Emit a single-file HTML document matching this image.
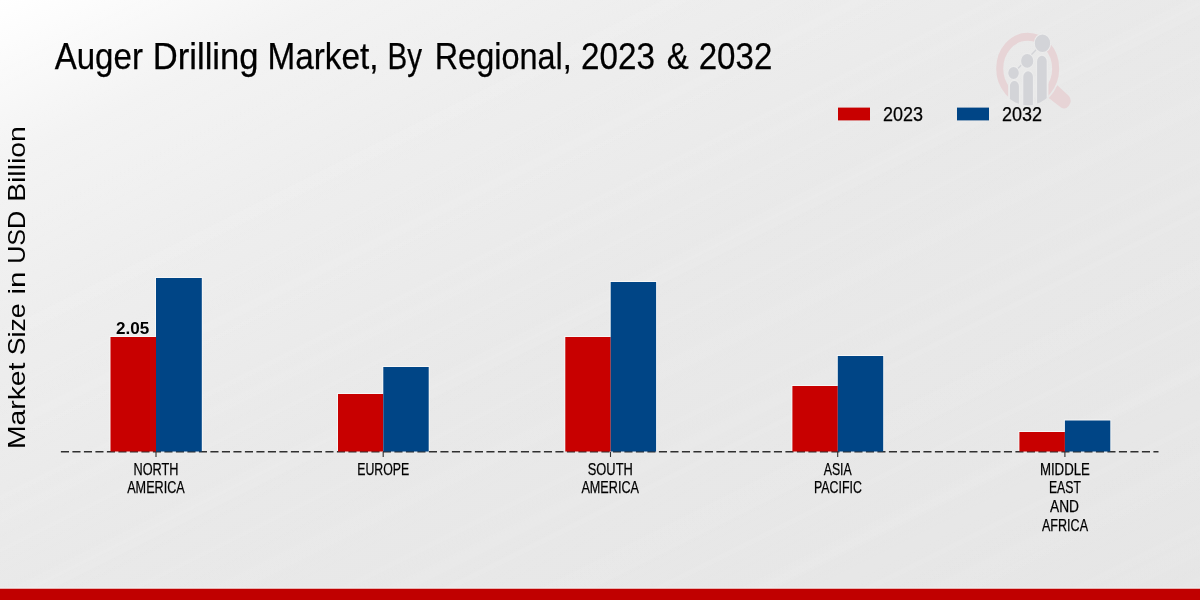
<!DOCTYPE html>
<html>
<head>
<meta charset="utf-8">
<title>Auger Drilling Market, By Regional, 2023 &amp; 2032</title>
<style>
html,body{margin:0;padding:0;background:#e8e8e8;}
body{width:1200px;height:600px;overflow:hidden;font-family:"Liberation Sans",sans-serif;}
svg{display:block;will-change:transform;}
text{font-family:"Liberation Sans",sans-serif;fill:#000;}
</style>
</head>
<body>
<svg width="1200" height="600" viewBox="0 0 1200 600">
<defs>
<linearGradient id="bg" gradientUnits="userSpaceOnUse" x1="0" y1="0" x2="480" y2="960">
<stop offset="0" stop-color="#ffffff"/>
<stop offset="0.05" stop-color="#fbfbfb"/>
<stop offset="0.14" stop-color="#f3f3f3"/>
<stop offset="0.27" stop-color="#eeeeee"/>
<stop offset="0.5" stop-color="#e9e9e9"/>
<stop offset="1" stop-color="#e6e6e6"/>
</linearGradient>
<linearGradient id="st1" gradientUnits="userSpaceOnUse" x1="0" y1="0" x2="21" y2="42" spreadMethod="repeat">
<stop offset="0" stop-color="#fff" stop-opacity="0"/>
<stop offset="0.2" stop-color="#fff" stop-opacity="0"/>
<stop offset="0.5" stop-color="#fff" stop-opacity="0.055"/>
<stop offset="0.6" stop-color="#fff" stop-opacity="0.01"/>
<stop offset="1" stop-color="#fff" stop-opacity="0"/>
</linearGradient>
<linearGradient id="st2" gradientUnits="userSpaceOnUse" x1="7" y1="0" x2="43" y2="72" spreadMethod="repeat">
<stop offset="0" stop-color="#fff" stop-opacity="0"/>
<stop offset="0.45" stop-color="#fff" stop-opacity="0"/>
<stop offset="0.75" stop-color="#fff" stop-opacity="0.06"/>
<stop offset="0.85" stop-color="#fff" stop-opacity="0.005"/>
<stop offset="1" stop-color="#fff" stop-opacity="0"/>
</linearGradient>
<linearGradient id="stmask" gradientUnits="userSpaceOnUse" x1="0" y1="0" x2="480" y2="960">
<stop offset="0" stop-color="#000"/>
<stop offset="0.12" stop-color="#555"/>
<stop offset="0.3" stop-color="#fff"/>
<stop offset="1" stop-color="#fff"/>
</linearGradient>
<mask id="stm"><rect x="0" y="0" width="1200" height="600" fill="url(#stmask)"/></mask>
<clipPath id="ringclip"><path d="M-60,-60 H60 V60 H23.6 V6 H-22.2 V60 H-60 Z"/></clipPath>
<clipPath id="barclip"><circle cx="0" cy="0" r="36.6"/></clipPath>
</defs>
<rect x="0" y="0" width="1200" height="600" fill="url(#bg)"/>
<g mask="url(#stm)"><rect x="0" y="0" width="1200" height="600" fill="url(#st1)"/><rect x="0" y="0" width="1200" height="600" fill="url(#st2)"/></g>

<!-- bottom strip -->

<!-- title -->
<g font-size="36.3" stroke="#000" stroke-width="0.25">
<text x="54.7" y="68.7" textLength="88.2" lengthAdjust="spacingAndGlyphs">Auger</text>
<text x="152.8" y="68.7" textLength="105.7" lengthAdjust="spacingAndGlyphs">Drilling</text>
<text x="267.5" y="68.7" textLength="111" lengthAdjust="spacingAndGlyphs">Market,</text>
<text x="387.5" y="68.7" textLength="34.5" lengthAdjust="spacingAndGlyphs">By</text>
<text x="434.7" y="68.7" textLength="137" lengthAdjust="spacingAndGlyphs">Regional,</text>
<text x="581" y="68.7" textLength="74" lengthAdjust="spacingAndGlyphs">2023</text>
<text x="666.8" y="68.7" textLength="22" lengthAdjust="spacingAndGlyphs">&amp;</text>
<text x="698.7" y="68.7" textLength="73.6" lengthAdjust="spacingAndGlyphs">2032</text>
</g>

<!-- y label -->
<g transform="translate(24.8,0) rotate(-90)" font-size="24.1">
<text x="-449.1" y="0" textLength="86.5" lengthAdjust="spacingAndGlyphs">Market</text>
<text x="-355.3" y="0" textLength="52" lengthAdjust="spacingAndGlyphs">Size</text>
<text x="-294.6" y="0" textLength="23" lengthAdjust="spacingAndGlyphs">in</text>
<text x="-263.8" y="0" textLength="53" lengthAdjust="spacingAndGlyphs">USD</text>
<text x="-201.8" y="0" textLength="75.5" lengthAdjust="spacingAndGlyphs">Billion</text>
</g>


<!-- logo watermark -->
<g transform="translate(1027.7,68.6) scale(0.88,1)">
<g clip-path="url(#ringclip)"><circle cx="0" cy="0" r="31.8" fill="none" stroke="#e7d4d6" stroke-width="8"/></g>
<path d="M33.6,16.6 L46.9,27.5 A7.4,7.4 0 0 1 37.8,38.8 L23.9,29.4 A37.6,37.6 0 0 0 33.6,16.6 Z" fill="#e7d4d6"/>
<g clip-path="url(#barclip)" fill="#d3d4d8" stroke="#ececec" stroke-width="1.4">
<rect x="-20.9" y="11.8" width="11.6" height="40" rx="5.8" ry="5.8"/>
<rect x="-5.7" y="2.0" width="12.3" height="50" rx="6.1" ry="6.1"/>
<rect x="10.0" y="-13.5" width="12.3" height="60" rx="6.1" ry="6.1"/>
</g>
<line x1="-16.1" y1="4.4" x2="16.8" y2="-25.35" stroke="#d3d4d8" stroke-width="1.6"/>
<g fill="#d3d4d8" stroke="#ececec" stroke-width="1.2">
<circle cx="16.8" cy="-25.35" r="9.35"/>
<circle cx="-0.57" cy="-7.7" r="7.5"/>
<circle cx="-16.1" cy="4.4" r="6.6"/>
</g>
</g>

<!-- legend -->
<rect x="838" y="107.6" width="32" height="12.8" fill="#c80000"/>
<text x="883" y="121.4" font-size="20" stroke="#000" stroke-width="0.25" textLength="40" lengthAdjust="spacingAndGlyphs">2023</text>
<rect x="957" y="107.6" width="32" height="12.8" fill="#004586"/>
<text x="1002" y="121.4" font-size="20" stroke="#000" stroke-width="0.25" textLength="40" lengthAdjust="spacingAndGlyphs">2032</text>

<!-- jpeg-like light halos -->
<g fill="#f6f6f6">
<rect x="109.5" y="336" width="47" height="115"/>
<rect x="155" y="277" width="47.8" height="174"/>
<rect x="337" y="393" width="47" height="58"/>
<rect x="382.3" y="366" width="47.4" height="85"/>
<rect x="564.3" y="336" width="47" height="115"/>
<rect x="609.7" y="281" width="47.4" height="170"/>
<rect x="791.4" y="385" width="47" height="66"/>
<rect x="836.8" y="355" width="47.4" height="96"/>
<rect x="1018.4" y="431" width="47" height="20"/>
<rect x="1063.9" y="419.5" width="47.4" height="31.5"/>
<rect x="0" y="587.8" width="1200" height="1.4" fill="#f8fcfc"/>
</g>
<rect x="0" y="588.7" width="1200" height="11.3" fill="#c00000"/>
<!-- axis -->
<line x1="60.9" y1="451.75" x2="1158.5" y2="451.75" stroke="#303030" stroke-width="1.7" stroke-dasharray="8.1 3.4"/>
<g stroke="#303030" stroke-width="1.1">
<line x1="156" y1="452" x2="156" y2="457"/>
<line x1="383.2" y1="452" x2="383.2" y2="457"/>
<line x1="610.5" y1="452" x2="610.5" y2="457"/>
<line x1="837.7" y1="452" x2="837.7" y2="457"/>
<line x1="1064.9" y1="452" x2="1064.9" y2="457"/>
</g>

<!-- bars -->
<g fill="#c80000">
<rect x="110.5" y="337" width="45.5" height="114.50"/>
<rect x="338" y="394" width="45.3" height="57.50"/>
<rect x="565.3" y="337" width="45.4" height="114.50"/>
<rect x="792.4" y="386" width="45.4" height="65.50"/>
<rect x="1019.4" y="432" width="45.5" height="19.50"/>
</g>
<g fill="#004586">
<rect x="156" y="278" width="45.8" height="173.50"/>
<rect x="383.3" y="367" width="45.4" height="84.50"/>
<rect x="610.7" y="282" width="45.4" height="169.50"/>
<rect x="837.8" y="356" width="45.4" height="95.50"/>
<rect x="1064.9" y="420.5" width="45.4" height="31.00"/>
</g>


<!-- bar value -->
<text x="116.1" y="334.1" font-size="16.2" font-weight="bold" textLength="33.2" lengthAdjust="spacingAndGlyphs">2.05</text>

<!-- tick labels -->
<g font-size="16.6" text-anchor="middle" stroke="#000" stroke-width="0.25">
<text x="156" y="474.7" textLength="45" lengthAdjust="spacingAndGlyphs">NORTH</text>
<text x="156" y="492.8" textLength="57.6" lengthAdjust="spacingAndGlyphs">AMERICA</text>
<text x="383.2" y="474.7" textLength="52" lengthAdjust="spacingAndGlyphs">EUROPE</text>
<text x="610.3" y="474.7" textLength="45" lengthAdjust="spacingAndGlyphs">SOUTH</text>
<text x="610.2" y="492.8" textLength="57.6" lengthAdjust="spacingAndGlyphs">AMERICA</text>
<text x="837.7" y="474.7" textLength="28" lengthAdjust="spacingAndGlyphs">ASIA</text>
<text x="837.9" y="492.8" textLength="48" lengthAdjust="spacingAndGlyphs">PACIFIC</text>
<text x="1064.9" y="474.7" textLength="50" lengthAdjust="spacingAndGlyphs">MIDDLE</text>
<text x="1064.9" y="492.9" textLength="32" lengthAdjust="spacingAndGlyphs">EAST</text>
<text x="1064.5" y="511.7" textLength="29" lengthAdjust="spacingAndGlyphs">AND</text>
<text x="1065" y="530.8" textLength="46" lengthAdjust="spacingAndGlyphs">AFRICA</text>
</g>
</svg>
</body>
</html>
